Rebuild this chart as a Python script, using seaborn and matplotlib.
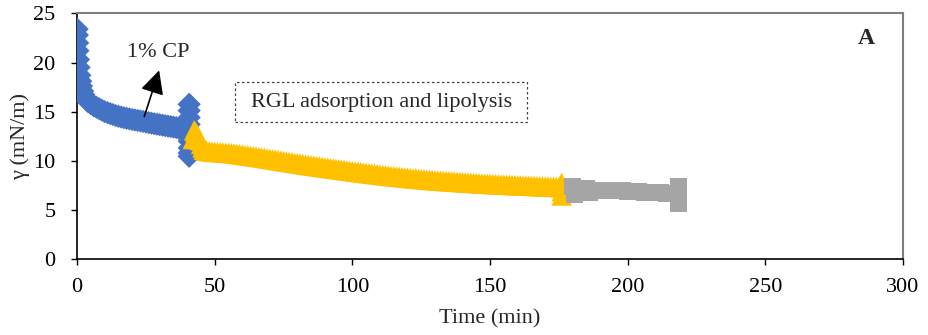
import matplotlib
matplotlib.use("Agg")
import matplotlib.pyplot as plt
from matplotlib.patches import Rectangle
import pandas as pd
import seaborn as sns

# Surface tension during the three stages of the experiment
cp_time = [0, 0.1, 0.2, 0.3, 0.5, 0.7, 1.0, 1.3, 1.6, 2.0, 2.5, 3.0, 3.5,
           4, 5, 6, 7, 8, 9, 10, 11, 12, 13, 14, 15, 16, 17, 18, 19, 20, 21, 22,
           23, 24, 25, 26, 27, 28, 29, 30, 31, 32, 33, 34, 35, 36, 37, 38, 39, 40,
           40.7, 40.7, 40.7, 40.7, 40.7, 40.7, 40.7, 40.7, 40.7]
cp_gamma = [23.4, 22.8, 22.0, 21.2, 20.3, 19.5, 18.7, 18.1, 17.6, 17.1, 16.7, 16.4, 16.2,
            16.0, 15.8, 15.6, 15.45, 15.3, 15.15, 15.0, 14.9, 14.8, 14.7, 14.6, 14.52,
            14.45, 14.38, 14.32, 14.26, 14.2, 14.15, 14.1, 14.05, 14.0, 13.94, 13.88,
            13.82, 13.77, 13.72, 13.67, 13.62, 13.57, 13.52, 13.48, 13.43, 13.38,
            13.3, 13.22, 13.12, 13.0,
            15.75, 15.1, 14.4, 13.7, 13.0, 12.0, 11.3, 10.8, 10.45]

rgl_time = [42, 42.5, 43, 43.5, 44, 44.5, 45, 45.5,
            46, 47, 48, 49, 50, 51, 52, 53, 54, 55, 56, 57, 58, 59, 60, 61, 62, 63,
            64, 65, 66, 67, 68, 69, 70, 71, 72, 73, 74, 75, 76, 77, 78, 79, 80, 81,
            82, 83, 84, 85, 86, 87, 88, 89, 90, 91, 92, 93, 94, 95, 96, 97, 98, 99,
            100, 101, 102, 103, 104, 105, 106, 107, 108, 109, 110, 111, 112, 113,
            114, 115, 116, 117, 118, 119, 120, 121, 122, 123, 124, 125, 126, 127,
            128, 129, 130, 131, 132, 133, 134, 135, 136, 137, 138, 139, 140, 141,
            142, 143, 144, 145, 146, 147, 148, 149, 150, 151, 152, 153, 154, 155,
            156, 157, 158, 159, 160, 161, 162, 163, 164, 165, 166, 167, 168, 169,
            170, 171, 172, 173, 174, 175,
            176, 176, 176, 176]
rgl_gamma = [12.2, 13.1, 12.95, 12.75, 12.45, 12.1, 11.7, 11.35,
             11.10, 11.02, 10.97, 10.93, 10.90, 10.88, 10.87, 10.85, 10.82, 10.80,
             10.77, 10.74, 10.70, 10.66, 10.62, 10.58, 10.54, 10.50, 10.46, 10.42,
             10.38, 10.33, 10.29, 10.24, 10.20, 10.15, 10.11, 10.06, 10.02, 9.97,
             9.93, 9.88, 9.84, 9.79, 9.75, 9.71, 9.66, 9.62, 9.57, 9.53, 9.49, 9.45,
             9.41, 9.37, 9.33, 9.29, 9.25, 9.21, 9.17, 9.13, 9.09, 9.05, 9.02, 8.98,
             8.94, 8.90, 8.87, 8.83, 8.80, 8.76, 8.72, 8.69, 8.65, 8.62, 8.58, 8.55,
             8.52, 8.48, 8.45, 8.42, 8.39, 8.36, 8.33, 8.30, 8.27, 8.24, 8.21, 8.19,
             8.16, 8.13, 8.11, 8.08, 8.06, 8.03, 8.01, 7.99, 7.97, 7.95, 7.93, 7.91,
             7.89, 7.87, 7.85, 7.83, 7.81, 7.79, 7.77, 7.76, 7.74, 7.72, 7.70, 7.69,
             7.67, 7.66, 7.64, 7.62, 7.61, 7.59, 7.58, 7.56, 7.55, 7.54, 7.52, 7.51,
             7.50, 7.49, 7.47, 7.46, 7.45, 7.44, 7.43, 7.41, 7.40, 7.39, 7.38, 7.37,
             7.35, 7.34, 7.33, 7.32,
             7.75, 7.3, 6.9, 6.45]

rinse_time = [180, 180.5, 181, 183, 185, 186, 188, 190, 192, 194, 196, 198, 200,
              202, 204, 206, 208, 210, 212, 214, 216,
              218.5, 218.5, 218.5, 218.5, 218.5]
rinse_gamma = [7.35, 6.6, 7.0, 7.1, 7.2, 6.8, 7.0, 7.0, 6.98, 6.96, 6.94, 6.92, 6.9,
               6.87, 6.84, 6.81, 6.78, 6.75, 6.72, 6.7, 6.68,
               7.37, 6.95, 6.5, 6.07, 5.64]

phases = ["cp", "rgl", "rinse"]
palette = {"cp": "#4472C4", "rgl": "#FFC000", "rinse": "#A5A5A5"}
markers = {"cp": "D", "rgl": "^", "rinse": "s"}
sizes = {"cp": 140, "rgl": 215, "rinse": 150}

df = pd.concat([
    pd.DataFrame({"time": cp_time, "gamma": cp_gamma, "phase": "cp"}),
    pd.DataFrame({"time": rgl_time, "gamma": rgl_gamma, "phase": "rgl"}),
    pd.DataFrame({"time": rinse_time, "gamma": rinse_gamma, "phase": "rinse"}),
], ignore_index=True)

sns.set_style("ticks")
plt.rcParams["font.family"] = ["Liberation Serif", "DejaVu Serif"]
plt.rcParams["font.size"] = 16

fig, ax = plt.subplots(figsize=(9.29, 3.35), dpi=100)
fig.subplots_adjust(left=0.083, right=0.972, top=0.960, bottom=0.227)

sns.scatterplot(data=df, x="time", y="gamma", hue="phase", style="phase",
                size="phase", hue_order=phases, palette=palette, markers=markers,
                sizes=sizes, linewidth=0, alpha=1, legend=False, ax=ax, zorder=3)

ax.set_xlim(0, 300)
ax.set_ylim(0, 25)
ax.set_xticks(range(0, 301, 50))
ax.set_yticks(range(0, 26, 5))
ax.tick_params(axis="y", direction="out", length=4.5, width=1, pad=11, labelsize=16)
ax.tick_params(axis="x", direction="out", length=4.5, width=1, pad=9, labelsize=16)
ax.tick_params(colors="black")

for side in ("left", "bottom"):
    ax.spines[side].set_color("black")
    ax.spines[side].set_linewidth(1.2)
for side in ("top", "right"):
    ax.spines[side].set_visible(True)
    ax.spines[side].set_color("#7f7f7f")
    ax.spines[side].set_linewidth(1.5)

ax.set_xlabel("Time (min)", fontsize=16)
ax.set_ylabel("γ (mN/m)", fontsize=16)
ax.xaxis.set_label_coords(0.5, -0.205)
ax.yaxis.set_label_coords(-0.057, 0.5)

# Annotations
ax.annotate("", xy=(29.8, 19.2), xytext=(24.4, 14.5),
            arrowprops=dict(arrowstyle="-|>,head_length=0.9,head_width=0.45",
                            color="black", lw=1.2, shrinkA=0, shrinkB=0),
            zorder=4)
ax.text(29.5, 21.0, "1% CP", ha="center", va="center", fontsize=16)
ax.text(286.5, 22.4, "A", ha="center", va="center", fontsize=17, fontweight="bold")

ax.add_patch(Rectangle((57.5, 13.9), 106.1, 4.1, fill=False, edgecolor="#404040",
                       linewidth=0.9, linestyle=(0, (2, 2)), zorder=2))
ax.text(110.5, 15.95, "RGL adsorption and lipolysis", ha="center", va="center",
        fontsize=16)

fig.savefig("out.png", dpi=100)
